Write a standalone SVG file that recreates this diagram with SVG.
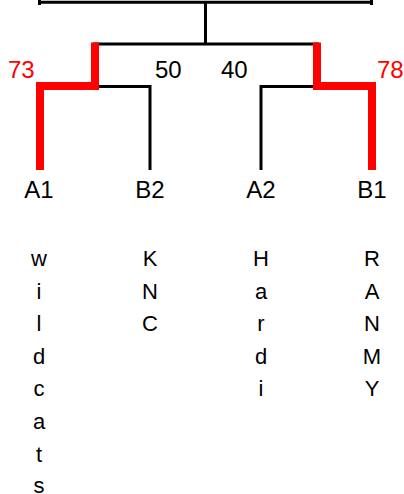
<svg xmlns="http://www.w3.org/2000/svg" width="404" height="494" viewBox="0 0 404 494">
<style>
.blk{fill:none;stroke:#000;stroke-width:3}
.red{fill:none;stroke:#ff0000;stroke-width:8}
text{font-family:"Liberation Sans",Arial,sans-serif;fill:#000}
.lbl{font-size:24px;text-anchor:middle}
.score{font-size:24px}
.win{fill:#ff0000}
.name{font-size:22px;text-anchor:middle}
</style>
<rect width="404" height="494" fill="#fff"/>
<g id="connectors">
<path class="blk" d="M38 2.2H373M39.5 0V5M371.5 0V5"/>
<path class="blk" d="M205.5 2V44M93 44H319"/>
<path class="blk" d="M99 86.5H150V170M313 86.5H261V170"/>
<path class="red" d="M95 42.5V86H40V170"/>
<path class="red" d="M317 42.5V86H372V170"/>
</g>
<g id="scores">
<text class="score win" x="8" y="78">73</text>
<text class="score" x="155" y="78">50</text>
<text class="score" x="221" y="78">40</text>
<text class="score win" x="377" y="78">78</text>
</g>
<g id="node-A1">
<text class="lbl" x="39" y="198">A1</text>
<text class="name" x="39"><tspan x="39" y="266">w</tspan><tspan x="39" y="298.6">i</tspan><tspan x="39" y="331.2">l</tspan><tspan x="39" y="363.8">d</tspan><tspan x="39" y="396.4">c</tspan><tspan x="39" y="429">a</tspan><tspan x="39" y="461.6">t</tspan><tspan x="39" y="493">s</tspan></text>
</g>
<g id="node-B2">
<text class="lbl" x="150" y="198">B2</text>
<text class="name"><tspan x="150" y="266">K</tspan><tspan x="150" y="298.6">N</tspan><tspan x="150" y="331.2">C</tspan></text>
</g>
<g id="node-A2">
<text class="lbl" x="261" y="198">A2</text>
<text class="name"><tspan x="261" y="266">H</tspan><tspan x="261" y="298.6">a</tspan><tspan x="261" y="331.2">r</tspan><tspan x="261" y="363.8">d</tspan><tspan x="261" y="396.4">i</tspan></text>
</g>
<g id="node-B1">
<text class="lbl" x="372" y="198">B1</text>
<text class="name"><tspan x="372" y="266">R</tspan><tspan x="372" y="298.6">A</tspan><tspan x="372" y="331.2">N</tspan><tspan x="372" y="363.8">M</tspan><tspan x="372" y="396.4">Y</tspan></text>
</g>
</svg>
